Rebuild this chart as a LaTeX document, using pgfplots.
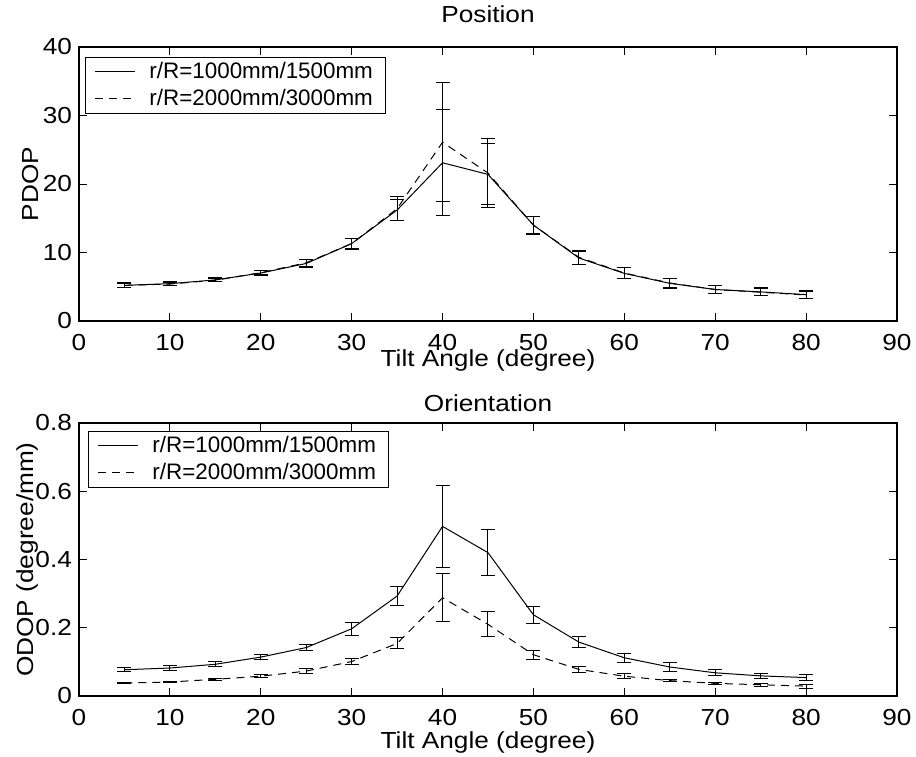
\documentclass[border=0pt]{standalone}
\usepackage{fontspec}
\setmainfont{Liberation Sans}
\newfontfamily\widefont[FakeStretch=1.13]{Liberation Sans}
\usepackage{pgfplots}
\pgfplotsset{compat=1.18}

\newcommand{\figfont}{\widefont\fontsize{11.6}{13.5}\selectfont}
\newcommand{\legfont}{\fontsize{11.2}{13}\selectfont}

\pgfplotsset{
  mlab/.style={
    scale only axis,
    width=409pt,
    xmin=0, xmax=90,
    xtick={0,10,...,90},
    tick align=inside,
    major tick length=3.8pt,
    axis line style={line width=0.6pt},
    every tick/.style={black, line width=0.4pt},
    /pgf/number format/assume math mode=true,
    tick label style={font=\figfont},
    label style={font=\figfont},
    title style={font=\figfont},
    xticklabel style={yshift=-3.2pt},
    legend cell align=left,
    legend image code/.code={\draw[#1] (0pt,0pt) -- (20pt,0pt);},
    legend style={anchor=north west, draw=black, line width=0.5pt,
      font=\legfont, inner xsep=4.5pt, inner ysep=0.3pt,
      nodes={inner sep=2pt},
      /tikz/every odd column/.append style={column sep=5pt}},
  },
  solidline/.style={black, solid, line width=0.5pt, mark=none,
    error bars/.cd, y dir=both, y explicit,
    error bar style={solid, line width=0.5pt},
    error mark options={solid, black, rotate=90, mark size=3.5pt, line width=0.5pt}},
  dashedline/.style={black, dash pattern=on 4pt off 3pt, line width=0.5pt, mark=none,
    error bars/.cd, y dir=both, y explicit,
    error bar style={solid, line width=0.5pt},
    error mark options={solid, black, rotate=90, mark size=3.5pt, line width=0.5pt}},
}

\begin{document}
\begin{tikzpicture}
% ---- Position ----
\begin{axis}[mlab,
    at={(0pt,0pt)},
    height=137pt,
    ymin=0, ymax=40, ytick={0,10,...,40},
    title={Position},
    title style={at={(axis description cs:0.5,1)}, anchor=center, yshift=10.5pt},
    xlabel={Tilt Angle (degree)},
    xlabel style={at={(axis description cs:0.5,0)}, anchor=center, yshift=-19.5pt},
    ylabel={PDOP},
    ylabel style={at={(axis description cs:-0.0587,0.5)}, anchor=center},
    legend style={at={(0.0073,0.9635)}},
]
\addplot[solidline] coordinates {
(5,5.2) +- (0,0.35)
(10,5.45) +- (0,0.25)
(15,6.0) +- (0,0.3)
(20,7.0) +- (0,0.35)
(25,8.4) +- (0,0.55)
(30,11.3) +- (0,0.8)
(35,16.2) +- (0,1.5)
(40,23.1) +- (0,7.75)
(45,21.4) +- (0,4.45)
(50,14.0) +- (0,1.2)
(55,9.2) +- (0,1.0)
(60,6.95) +- (0,0.8)
(65,5.5) +- (0,0.7)
(70,4.6) +- (0,0.6)
(75,4.25) +- (0,0.6)
(80,3.85) +- (0,0.55)
};
\addlegendentry{r/R=1000mm/1500mm}
\addplot[dashedline] coordinates {
(5,5.2) +- (0,0.3)
(10,5.4) +- (0,0.2)
(15,5.95) +- (0,0.25)
(20,7.05) +- (0,0.3)
(25,8.5) +- (0,0.5)
(30,11.3) +- (0,0.75)
(35,16.4) +- (0,1.8)
(40,26.1) +- (0,8.7)
(45,21.6) +- (0,5.1)
(50,14.0) +- (0,1.3)
(55,9.3) +- (0,1.0)
(60,7.0) +- (0,0.75)
(65,5.55) +- (0,0.65)
(70,4.6) +- (0,0.55)
(75,4.2) +- (0,0.55)
(80,3.8) +- (0,0.5)
};
\addlegendentry{r/R=2000mm/3000mm}
\end{axis}

% ---- Orientation ----
\begin{axis}[mlab,
    at={(0pt,-187.5pt)},
    height=136.5pt,
    ymin=0, ymax=0.8, ytick={0,0.2,...,0.8},
    yticklabel style={/pgf/number format/fixed},
    title={Orientation},
    title style={at={(axis description cs:0.5,1)}, anchor=center, yshift=3.75pt},
    xlabel={Tilt Angle (degree)},
    xlabel style={at={(axis description cs:0.5,0)}, anchor=center, yshift=-23pt},
    ylabel={ODOP (degree/mm)},
    ylabel style={at={(axis description cs:-0.0625,0.5)}, anchor=center},
    legend style={at={(0.011,0.971)}},
]
\addplot[solidline] coordinates {
(5,0.077) +- (0,0.006)
(10,0.082) +- (0,0.006)
(15,0.093) +- (0,0.007)
(20,0.114) +- (0,0.008)
(25,0.142) +- (0,0.010)
(30,0.197) +- (0,0.019)
(35,0.293) +- (0,0.028)
(40,0.497) +- (0,0.120)
(45,0.420) +- (0,0.068)
(50,0.238) +- (0,0.025)
(55,0.158) +- (0,0.016)
(60,0.112) +- (0,0.013)
(65,0.085) +- (0,0.012)
(70,0.068) +- (0,0.009)
(75,0.059) +- (0,0.008)
(80,0.054) +- (0,0.009)
};
\addlegendentry{r/R=1000mm/1500mm}
\addplot[dashedline] coordinates {
(5,0.038) +- (0,0.002)
(10,0.041) +- (0,0.002)
(15,0.049) +- (0,0.003)
(20,0.058) +- (0,0.005)
(25,0.073) +- (0,0.007)
(30,0.101) +- (0,0.008)
(35,0.154) +- (0,0.016)
(40,0.288) +- (0,0.070)
(45,0.210) +- (0,0.037)
(50,0.121) +- (0,0.013)
(55,0.078) +- (0,0.008)
(60,0.058) +- (0,0.007)
(65,0.045) +- (0,0.003)
(70,0.037) +- (0,0.003)
(75,0.033) +- (0,0.005)
(80,0.029) +- (0,0.006)
};
\addlegendentry{r/R=2000mm/3000mm}
\end{axis}

\pgfresetboundingbox
\path (-39.5pt,-217.5pt) rectangle (418.5pt,160.5pt);
\end{tikzpicture}
\end{document}
